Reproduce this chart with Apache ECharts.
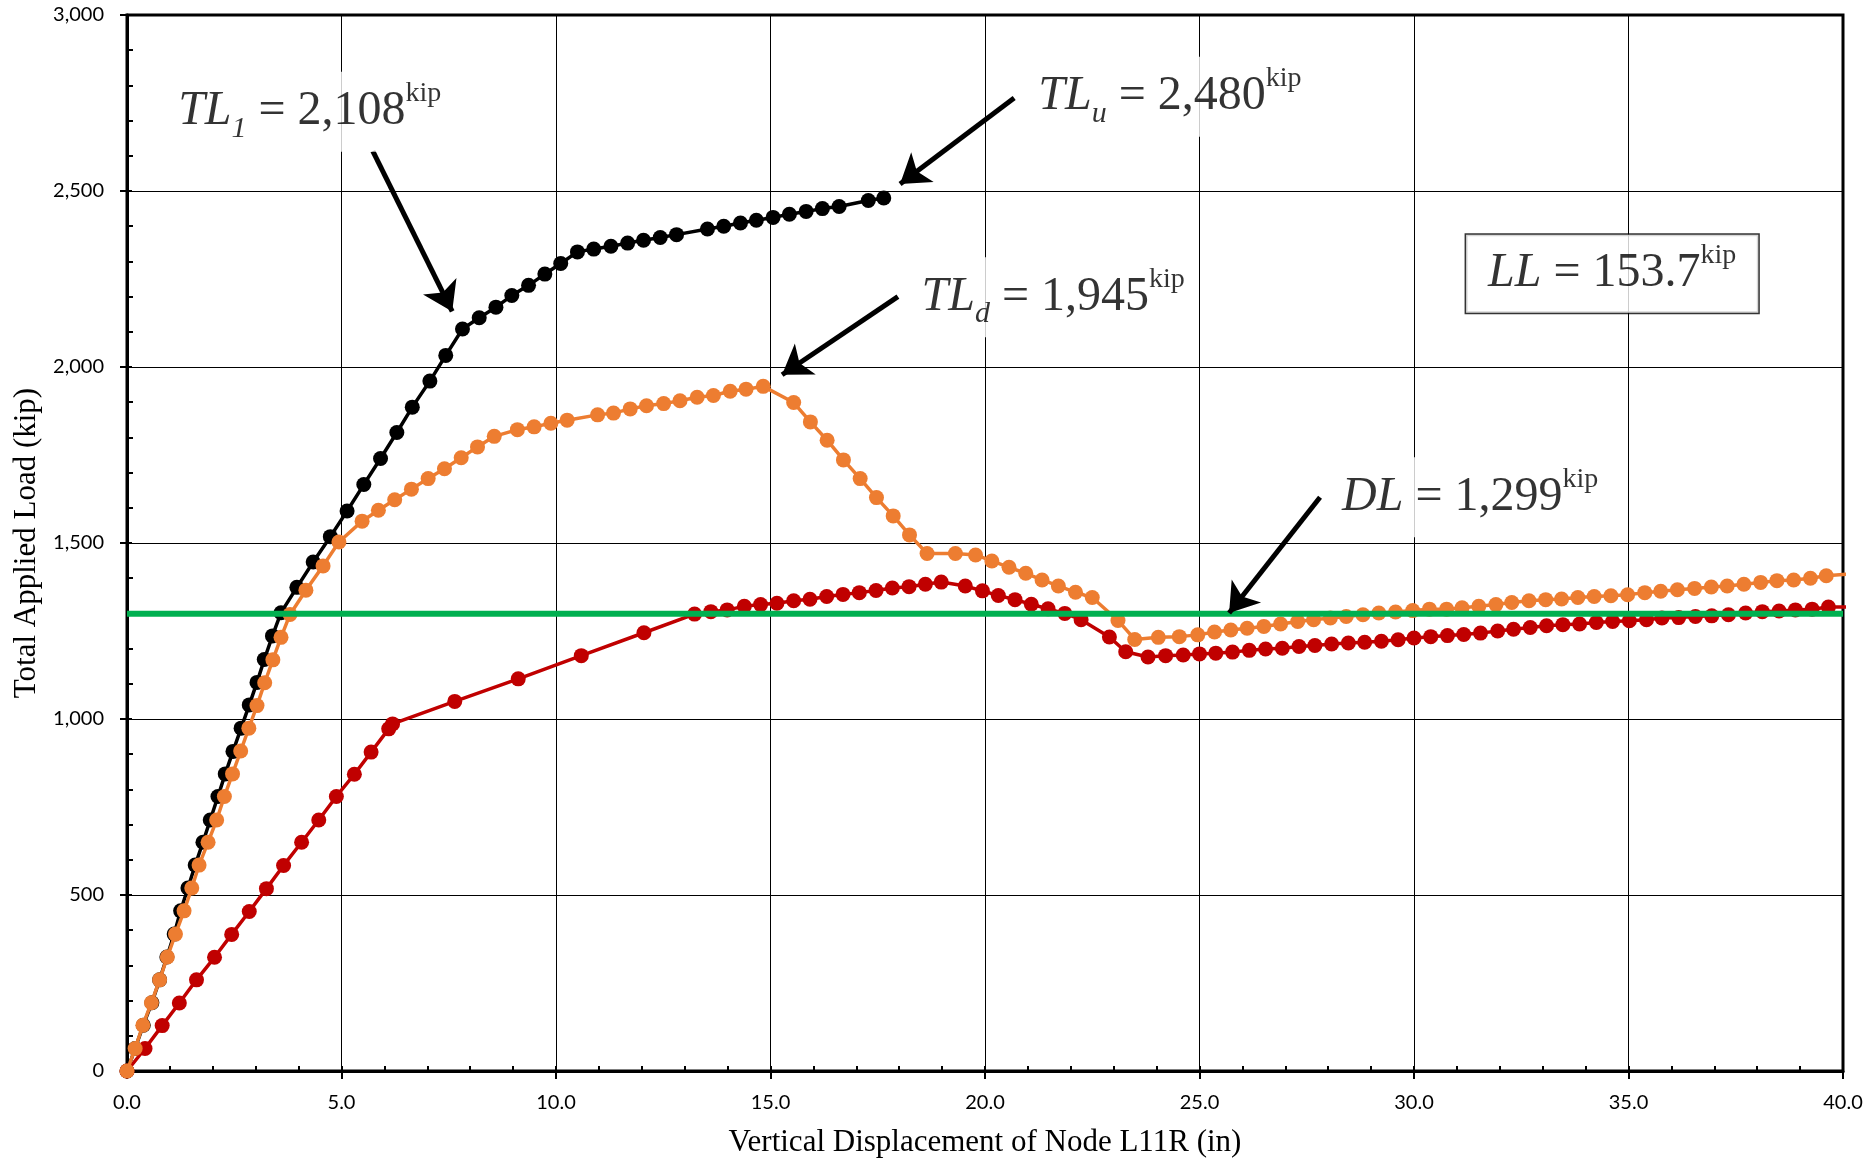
<!DOCTYPE html>
<html>
<head>
<meta charset="utf-8">
<title>Total Applied Load vs Vertical Displacement of Node L11R</title>
<script src="https://cdn.jsdelivr.net/npm/echarts@6/dist/echarts.min.js"></script>
<style>
  html, body { margin: 0; padding: 0; background: #fff; }
  #chart { width: 1868px; height: 1161px; }
</style>
</head>
<body>
<div id="chart"></div>
<script>
// displacement (in) and total load (kip)
const blackDisp = [0,0.19,0.38,0.58,0.76,0.93,1.10,1.25,1.42,1.59,1.77,1.94,2.12,2.29,2.47,2.66,2.85,3.03,3.20,3.39,3.59,3.96,4.34,4.74,5.13,5.52,5.91,6.29,6.65,7.06,7.43,7.82,8.21,8.60,8.97,9.36,9.74,10.11,10.50,10.88,11.28,11.67,12.04,12.43,12.81,13.53,13.91,14.30,14.67,15.06,15.44,15.83,16.21,16.60,17.28,17.64]
const blackLoad = [0,64,130,194,259,324,389,455,520,585,650,713,780,844,908,974,1040,1104,1169,1236,1302,1374,1446,1518,1591,1666,1740,1814,1886,1960,2033,2108,2140,2170,2203,2232,2264,2294,2327,2335,2343,2352,2360,2368,2376,2392,2400,2409,2417,2425,2434,2442,2450,2456,2473,2480]

const orangeDisp = [0,0.19,0.37,0.57,0.76,0.94,1.13,1.33,1.51,1.68,1.89,2.09,2.27,2.46,2.65,2.84,3.03,3.21,3.40,3.59,3.80,4.17,4.57,4.94,5.48,5.86,6.24,6.63,7.02,7.40,7.79,8.17,8.56,9.10,9.49,9.88,10.26,10.97,11.34,11.73,12.11,12.51,12.89,13.29,13.67,14.06,14.43,14.83,15.54,15.93,16.32,16.70,17.09,17.47,17.86,18.24,18.65,19.31,19.78,20.16,20.56,20.95,21.33,21.71,22.11,22.50,23.10,23.49,24.04,24.53,24.96,25.35,25.73,26.11,26.50,26.89,27.29,27.66,28.05,28.42,28.81,29.18,29.57,29.97,30.36,30.76,31.12,31.51,31.91,32.28,32.68,33.07,33.44,33.82,34.20,34.59,34.98,35.38,35.75,36.14,36.54,36.93,37.30,37.69,38.08,38.46,38.85,39.24,39.61,40.3]
const orangeLoad = [0,64,130,194,259,324,389,455,520,585,650,713,780,844,909,974,1038,1103,1168,1232,1297,1366,1435,1503,1562,1593,1623,1653,1683,1711,1742,1773,1803,1822,1830,1840,1849,1864,1869,1881,1890,1896,1904,1914,1919,1931,1937,1945,1899,1844,1792,1736,1683,1629,1577,1523,1470,1470,1466,1449,1431,1414,1395,1378,1360,1345,1280,1226,1232,1234,1239,1247,1253,1258,1263,1270,1277,1282,1287,1291,1296,1301,1304,1308,1312,1312,1316,1320,1325,1331,1336,1339,1341,1345,1348,1350,1353,1359,1363,1367,1371,1375,1378,1383,1388,1393,1395,1400,1407,1413]

const redDisp = [0,0.42,0.82,1.22,1.62,2.04,2.44,2.85,3.25,3.65,4.07,4.47,4.88,5.30,5.69,6.10,6.19,7.64,9.12,10.59,12.05,13.23,13.61,13.99,14.39,14.77,15.15,15.54,15.92,16.31,16.69,17.07,17.46,17.84,18.23,18.61,18.98,19.54,19.94,20.31,20.70,21.08,21.47,21.86,22.24,22.90,23.28,23.80,24.21,24.62,25.00,25.38,25.77,26.16,26.54,26.93,27.32,27.69,28.08,28.47,28.85,29.24,29.63,30.00,30.39,30.78,31.16,31.55,31.95,32.32,32.71,33.09,33.47,33.86,34.25,34.63,35.02,35.42,35.78,36.17,36.56,36.94,37.33,37.73,38.12,38.51,38.89,39.28,39.66,40.3]
const redLoad = [0,64,129,193,259,323,388,453,518,584,650,713,780,843,906,972,986,1050,1114,1180,1245,1298,1305,1310,1320,1325,1329,1336,1340,1348,1354,1359,1365,1372,1376,1383,1389,1378,1364,1351,1339,1326,1313,1300,1282,1233,1191,1176,1180,1182,1185,1187,1190,1195,1199,1201,1206,1209,1213,1216,1218,1221,1225,1230,1234,1237,1240,1244,1250,1255,1260,1265,1268,1270,1274,1277,1279,1282,1287,1288,1291,1293,1296,1301,1305,1307,1310,1312,1318,1318]

// dead load level (green line) and the annotated values
const deadLoad = 1299
const annoNames = ['TL1', 'TLu', 'TLd', 'DL', 'LL']
const annoValues = ['2,108', '2,480', '1,945', '1,299', '153.7']

const xTicks = [0, 40, 5]      // min, max, step
const yTicks = [0, 3000, 500]

const zip = (xs, ys) => xs.map((x, i) => [x, ys[i]])

const serif = 'Liberation Serif'
const rich = {
    v: { fontFamily: serif, fontStyle: 'italic', fontSize: 48, lineHeight: 64, color: '#000' },
    n: { fontFamily: serif, fontSize: 48, lineHeight: 64, color: '#000' },
    sub: { fontFamily: serif, fontStyle: 'italic', fontSize: 30, verticalAlign: 'bottom', color: '#000' },
    sup: { fontFamily: serif, fontSize: 28, lineHeight: 46, verticalAlign: 'top', color: '#000' }
}
function annoText(name, value) {
    let head = '{v|' + name + '}'
    if (name.startsWith('TL')) head = '{v|TL}{sub|' + name.slice(2) + '}'
    return head + '{n| = ' + value + '}{sup|kip}'
}

// where each text sits and where the arrows run (data coordinates)
const annoAt = [[4.26, 2725], [24.31, 2768], [21.59, 2198], [31.31, 1630], [34.62, 2265]]
const arrows = [
    [[5.73, 2613], [7.58, 2158]],
    [[20.68, 2764], [18.02, 2520]],
    [[17.97, 2200], [15.27, 1978]],
    [[27.81, 1630], [25.69, 1301]]
]

function curve(name, xs, ys, color, z) {
    return {
        name, type: 'line', data: zip(xs, ys), z,
        symbol: 'circle', symbolSize: 15,
        lineStyle: { color, width: 3.5 },
        itemStyle: { color },
        clip: true, silent: true
    }
}

const axisCommon = (t) => ({
    type: 'value', min: t[0], max: t[1], interval: t[2]
})

const chart = echarts.init(document.getElementById('chart'))
chart.setOption({
    animation: false,
    backgroundColor: '#fff',
    grid: {
        left: 127, right: 25, top: 15, bottom: 90,
        show: true, borderColor: '#000', borderWidth: 3, backgroundColor: '#fff',
        outerBoundsMode: 'none'
    },
    xAxis: [
        {
            ...axisCommon(xTicks), position: 'bottom',
            name: 'Vertical Displacement of Node L11R (in)',
            nameLocation: 'middle', nameGap: 56,
            nameTextStyle: { fontFamily: serif, fontSize: 31, color: '#000' },
            axisLine: { onZero: false, lineStyle: { color: '#000', width: 3 } },
            axisTick: { show: true, inside: false, length: 8, lineStyle: { color: '#000', width: 2 } },
            axisLabel: { formatter: v => v.toFixed(1), fontFamily: 'Lato', fontSize: 20, color: '#000', margin: 22 },
            splitLine: { show: true, lineStyle: { color: '#000', width: 1 } }
        },
        {
            ...axisCommon(xTicks), position: 'bottom',
            axisLine: { show: false, onZero: false },
            axisTick: { show: true, inside: true, length: 5, lineStyle: { color: '#000', width: 2 } },
            minorTick: { show: true, splitNumber: 5, length: 5, lineStyle: { color: '#000', width: 2 } },
            axisLabel: { show: false },
            splitLine: { show: false }
        }
    ],
    yAxis: [
        {
            ...axisCommon(yTicks), position: 'left',
            name: 'Total Applied Load (kip)',
            nameLocation: 'middle', nameGap: 84,
            nameTextStyle: { fontFamily: serif, fontSize: 31, color: '#000' },
            axisLine: { onZero: false, lineStyle: { color: '#000', width: 3 } },
            axisTick: { show: true, inside: false, length: 7, lineStyle: { color: '#000', width: 2 } },
            axisLabel: { formatter: v => v.toLocaleString('en-US'), fontFamily: 'Lato', fontSize: 20, color: '#000', margin: 23 },
            splitLine: { show: true, lineStyle: { color: '#000', width: 1 } }
        },
        {
            ...axisCommon(yTicks), position: 'left',
            axisLine: { show: false, onZero: false },
            axisTick: { show: true, inside: true, length: 5, lineStyle: { color: '#000', width: 2 } },
            minorTick: { show: true, splitNumber: 5, length: 6, lineStyle: { color: '#000', width: 2 } },
            axisLabel: { show: false },
            splitLine: { show: false }
        }
    ],
    series: [
        curve('black', blackDisp, blackLoad, '#000000', 2),
        curve('red', redDisp, redLoad, '#C00000', 3),
        curve('orange', orangeDisp, orangeLoad, '#ED7D31', 4),
        {
            name: 'DL', type: 'line', z: 5, silent: true,
            data: [[xTicks[0], deadLoad], [xTicks[1], deadLoad]],
            symbol: 'none',
            lineStyle: { color: '#00B050', width: 6 }
        },
        {
            type: 'lines', coordinateSystem: 'cartesian2d', z: 6, silent: true,
            polyline: false,
            data: arrows.map(a => ({ coords: a })),
            symbol: ['none', 'arrow'], symbolSize: 28,
            lineStyle: { color: '#000', width: 5, opacity: 1, curveness: 0 }
        },
        {
            type: 'scatter', z: 7, silent: true,
            symbolSize: 1,
            itemStyle: { color: 'rgba(0,0,0,0)' },
            data: annoNames.map((nm, i) => ({
                value: annoAt[i],
                label: nm === 'LL'
                    ? { borderColor: '#000', borderWidth: 1.5, padding: [7, 22] }
                    : {}
            })),
            label: {
                show: true, position: 'inside',
                formatter: p => annoText(annoNames[p.dataIndex], annoValues[p.dataIndex]),
                backgroundColor: '#fff', padding: [8, 4],
                rich
            }
        }
    ]
})
</script>
</body>
</html>
